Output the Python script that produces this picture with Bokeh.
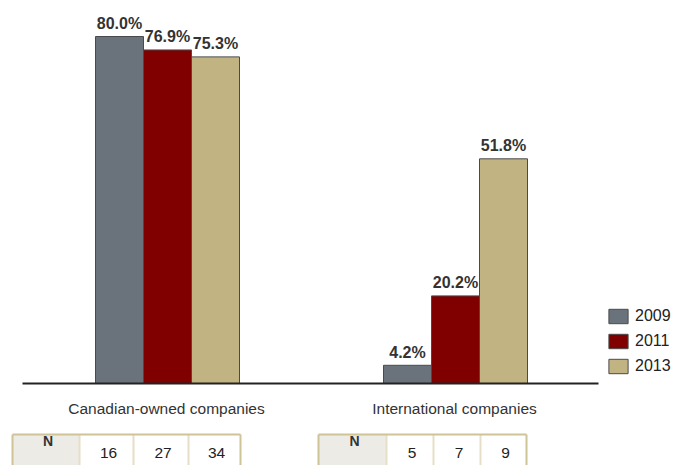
from bokeh.plotting import figure
from bokeh.models import Range1d, Legend, LegendItem, ColumnDataSource
from bokeh.embed import file_html
from bokeh.resources import INLINE
from bokeh.core.properties import value

categories = ["Canadian-owned companies", "International companies"]
years = ["2009", "2011", "2013"]
v2009 = [80.0, 4.2]
v2011 = [76.9, 20.2]
v2013 = [75.3, 51.8]
n2009 = [16, 5]
n2011 = [27, 7]
n2013 = [34, 9]
colors = ["#6A737B", "#800000", "#C2B482"]

FONT = value("Liberation Sans")

# layout constants (pixels)
W, H = 680, 465
GROUP_PX = 288          # width of one category slot
AXIS_LEFT_PX = 22       # left end of the baseline
BASE_PX = 383           # baseline distance from top
PX_PER_PCT = 4.3375

x0 = -AXIS_LEFT_PX / GROUP_PX
x1 = x0 + W / GROUP_PX
y1 = BASE_PX / PX_PER_PCT
y0 = -(H - BASE_PX) / PX_PER_PCT

p = figure(x_range=Range1d(x0, x1), y_range=Range1d(y0, y1), width=W, height=H,
           output_backend="svg", toolbar_location=None, min_border=0)
p.outline_line_color = None
p.grid.visible = False
p.axis.visible = False
p.extra_x_ranges = {"px": Range1d(0, W)}
p.extra_y_ranges = {"px": Range1d(H, 0)}

ncat = len(categories)
centers = [i + 0.5 for i in range(ncat)]

bw = 48 / GROUP_PX
offsets = [-bw, 0, bw]
series = [v2009, v2011, v2013]
items = []
for yr, vals, col, off in zip(years, series, colors, offsets):
    src = ColumnDataSource(dict(x=[c + off + 1.0 / GROUP_PX for c in centers], top=vals,
                                label=[f"{v:.1f}%" for v in vals]))
    r = p.vbar(x="x", top="top", bottom=0, width=bw, source=src,
               fill_color=col, line_color="#4A4A4A", line_width=1)
    p.text(x="x", y="top", text="label", source=src,
           text_align="center", text_baseline="alphabetic", y_offset=-13,
           text_font=FONT, text_font_style="bold", text_font_size="16px",
           text_color="#333333")
    items.append(LegendItem(label=yr, renderers=[r]))

# baseline (category axis) and category labels
p.segment(x0=0, y0=0, x1=ncat, y1=0, line_color="#222222", line_width=2)
p.text(x=centers, y=[0] * ncat, text=categories, text_align="center",
       text_baseline="alphabetic", y_offset=25, text_font=FONT,
       text_font_size="15.5px", text_color="#333333")

legend = Legend(items=items, location=(606, H - 375), orientation="vertical",
                glyph_width=24, glyph_height=18, label_height=18, spacing=7,
                label_standoff=5, padding=0, margin=0,
                border_line_alpha=0, background_fill_alpha=0,
                label_text_font="Liberation Sans", label_text_font_size="16px",
                label_text_baseline="alphabetic",
                label_text_color="#222222")
p.add_layout(legend)

# N tables (in pixel range)
table_edges = [[12, 79, 133, 188, 240], [318, 386, 433, 480, 526]]
ns = list(zip(n2009, n2011, n2013))
top, bot = 434, 480
kw = dict(x_range_name="px", y_range_name="px")
for edges, nvals in zip(table_edges, ns):
    fills = ["#EDEBE6", "white", "white", "white"]
    p.quad(left=edges[:-1], right=edges[1:], top=top, bottom=bot,
           fill_color=fills, line_color=None, **kw)
    p.segment(x0=edges[1:-1], y0=top, x1=edges[1:-1], y1=bot,
              line_color="#E6DEC6", line_width=2, **kw)
    p.segment(x0=[edges[0], edges[-1]], y0=top, x1=[edges[0], edges[-1]], y1=bot,
              line_color="#CFC398", line_width=2, **kw)
    p.segment(x0=edges[0], y0=top, x1=edges[-1], y1=top,
              line_color="#CFC398", line_width=2, **kw)
    cx = [(a + b) / 2 + 2 for a, b in zip(edges[:-1], edges[1:])]
    p.text(x=[cx[0]], y=[440], text=["N"], text_align="center", text_baseline="alphabetic",
           text_font=FONT, text_font_style="bold", text_font_size="14px",
           text_color="#333333", **kw)
    p.text(x=cx[1:], y=[452] * 3, text=[str(v) for v in nvals], text_align="center",
           text_baseline="alphabetic", text_font=FONT, text_font_size="15.5px",
           text_color="#222222", **kw)

open("out.html", "w").write(file_html(p, INLINE))
